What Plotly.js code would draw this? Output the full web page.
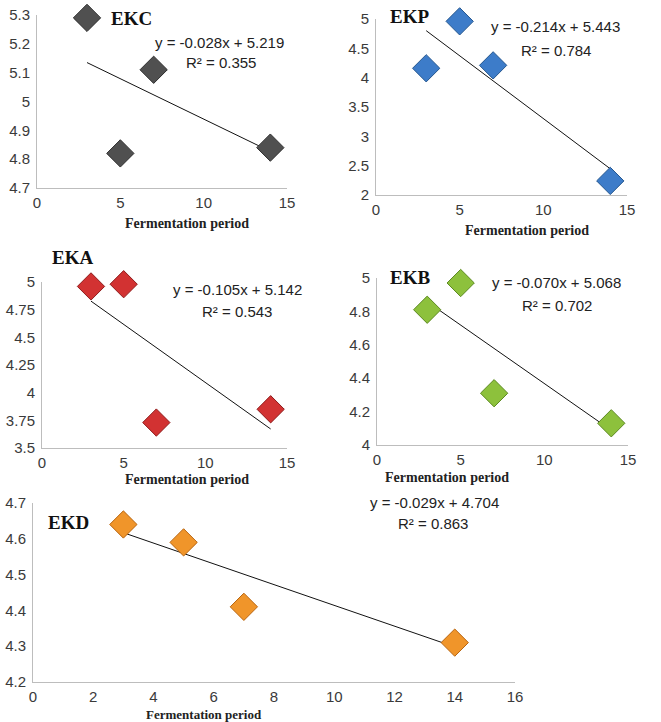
<!DOCTYPE html>
<html><head><meta charset="utf-8">
<script src="https://cdn.plot.ly/plotly-3.0.1.min.js"></script>
<style>html,body{margin:0;padding:0;background:#fff}#chart{width:661px;height:722px}</style>
</head><body><div id="chart"></div>
<script>
// Data
const days = [3, 5, 7, 14];
const EKC = [5.29, 4.82, 5.11, 4.84];
const EKP = [4.16, 4.96, 4.21, 2.24];
const EKA = [4.96, 4.98, 3.73, 3.85];
const EKB = [4.81, 4.97, 4.31, 4.13];
const EKD = [4.64, 4.59, 4.41, 4.31];
const panelNames = ['EKC', 'EKP', 'EKA', 'EKB', 'EKD'];
const slopes = [-0.028, -0.214, -0.105, -0.070, -0.029];
const intercepts = [5.219, 5.443, 5.142, 5.068, 4.704];
const r2 = ['0.355', '0.784', '0.543', '0.702', '0.863'];
const xTitle = 'Fermentation period';

const series = [EKC, EKP, EKA, EKB, EKD];
const colors = ['#505050', '#3d7cc9', '#d23232', '#8dc13c', '#f0952a'];
const edge = ['#2e2e2e', '#25578f', '#8f1b1b', '#5d8a22', '#b86510'];

// layout geometry (px) : [left, right, top, bottom]
const W = 661, H = 722;
const boxes = [
  [37, 287, 15, 188],
  [376, 627, 19, 195],
  [42, 287, 282, 448],
  [377, 628, 278, 445],
  [33, 515, 503, 682]
];
const yr = [[4.7, 5.3, 0.1], [2, 5, 0.5], [3.5, 5, 0.25], [4, 5, 0.2], [4.2, 4.7, 0.1]];
const xr = [[0, 15, 5], [0, 15, 5], [0, 15, 5], [0, 15, 5], [0, 16, 2]];
const eqPos = [[220, 42, 221, 63], [555, 27, 556, 50], [237, 289, 237, 311], [556, 283, 557, 305], [434, 502, 433, 523]];
const labPos = [[131, 19], [409, 17], [72, 257], [410, 277], [68, 522]];
const xtPos = [[187, 223, 14], [527, 231, 14], [187, 479, 14], [447, 477, 14], [204, 714, 13]];

const px = v => v / W, py = v => 1 - v / H;
const traces = [], annotations = [];
const layout = {
  width: W, height: H, margin: {l: 0, r: 0, t: 0, b: 0},
  paper_bgcolor: '#fff', plot_bgcolor: '#fff', showlegend: false,
  font: {family: 'Liberation Sans, Arial, sans-serif', color: '#3a3a3a', size: 15}
};

series.forEach((ys, i) => {
  const n = i + 1, xa = 'x' + (n === 1 ? '' : n), ya = 'y' + (n === 1 ? '' : n);
  const xmin = Math.min(...days), xmax = Math.max(...days);
  traces.push({
    x: [xmin, xmax], y: [slopes[i] * xmin + intercepts[i], slopes[i] * xmax + intercepts[i]],
    xaxis: xa, yaxis: ya, mode: 'lines', line: {color: '#111', width: 1}, hoverinfo: 'skip'
  });
  traces.push({
    x: days, y: ys, xaxis: xa, yaxis: ya, mode: 'markers', name: panelNames[i],
    marker: {symbol: 'diamond', size: 21, color: colors[i], line: {color: edge[i], width: 1}},
    cliponaxis: false
  });
  const b = boxes[i];
  const axCommon = {showgrid: false, zeroline: false, showline: true, linecolor: '#bdbdbd', linewidth: 1,
    ticks: '', tickfont: {size: 15, color: '#3a3a3a'}, fixedrange: true, ticklabelstandoff: 1};
  layout['xaxis' + (n === 1 ? '' : n)] = Object.assign({}, axCommon, {
    domain: [px(b[0]), px(b[1])], anchor: ya, range: [xr[i][0], xr[i][1]], dtick: xr[i][2], tick0: 0
  });
  layout['yaxis' + (n === 1 ? '' : n)] = Object.assign({}, axCommon, {
    domain: [py(b[3]), py(b[2])], anchor: xa, range: [yr[i][0], yr[i][1]], dtick: yr[i][2], tick0: yr[i][0],
    ticklabelstandoff: 3
  });
  const e = eqPos[i];
  const sgn = intercepts[i] >= 0 ? '+' : '-';
  annotations.push({xref: 'paper', yref: 'paper', x: px(e[0]), y: py(e[1]), showarrow: false,
    text: 'y = ' + slopes[i].toFixed(3) + 'x ' + sgn + ' ' + Math.abs(intercepts[i]).toFixed(3),
    font: {size: 15, color: '#222'}, xanchor: 'center', yanchor: 'middle'});
  annotations.push({xref: 'paper', yref: 'paper', x: px(e[2]), y: py(e[3]), showarrow: false,
    text: 'R² = ' + r2[i], font: {size: 15, color: '#222'}, xanchor: 'center', yanchor: 'middle'});
  const l = labPos[i];
  annotations.push({xref: 'paper', yref: 'paper', x: px(l[0]), y: py(l[1]), showarrow: false,
    text: '<b>' + panelNames[i] + '</b>', font: {size: 19, color: '#111', family: 'Liberation Serif, Times New Roman, serif'},
    xanchor: 'center', yanchor: 'middle'});
  const t = xtPos[i];
  annotations.push({xref: 'paper', yref: 'paper', x: px(t[0]), y: py(t[1]), showarrow: false,
    text: '<b>' + xTitle + '</b>', font: {size: t[2], color: '#222', family: 'Liberation Serif, Times New Roman, serif'},
    xanchor: 'center', yanchor: 'middle'});
});
layout.annotations = annotations;
Plotly.newPlot('chart', traces, layout, {displayModeBar: false, staticPlot: true});
</script></body></html>
